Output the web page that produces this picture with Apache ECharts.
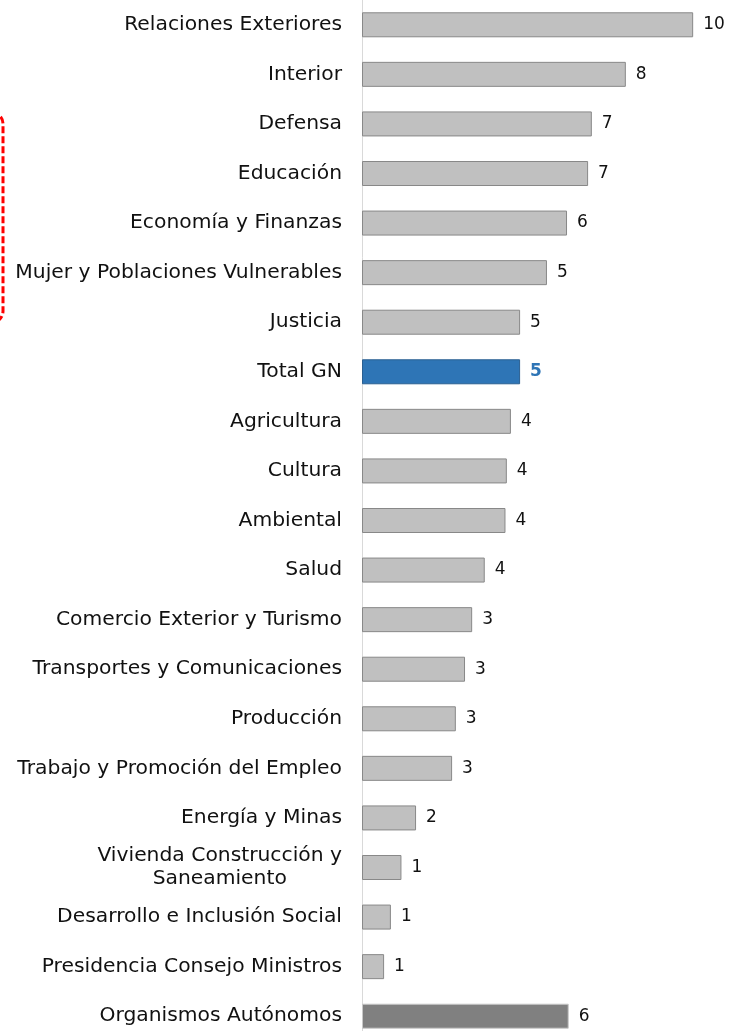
<!DOCTYPE html>
<html>
<head>
<meta charset="utf-8">
<script src="https://cdn.jsdelivr.net/npm/echarts@6/dist/echarts.min.js"></script>
<style>
html,body{margin:0;padding:0;background:#fff;}
#chart{width:731px;height:1031px;}
</style>
</head>
<body>
<div id="chart"></div>
<script>
const categories = [
  'Relaciones Exteriores','Interior','Defensa','Educación','Economía y Finanzas',
  'Mujer y Poblaciones Vulnerables','Justicia','Total GN','Agricultura','Cultura',
  'Ambiental','Salud','Comercio Exterior y Turismo','Transportes y Comunicaciones',
  'Producción','Trabajo y Promoción del Empleo','Energía y Minas',
  'Vivienda Construcción y\nSaneamiento','Desarrollo e Inclusión Social',
  'Presidencia Consejo Ministros','Organismos Autónomos'
];
const values = [9.74, 7.76, 6.76, 6.65, 6.03, 5.44, 4.65, 4.65, 4.38, 4.26, 4.22, 3.61, 3.24, 3.03, 2.76, 2.65, 1.59, 1.16, 0.85, 0.65, 6.08];
const totalName = 'Total GN';
const autonomoName = 'Organismos Autónomos';

const chart = echarts.init(document.getElementById('chart'), null, {renderer:'canvas'});

const data = values.map((v, i) => {
  const name = categories[i];
  if (name === totalName) {
    return {value: v, itemStyle: {color: '#2E75B6', borderColor: '#2A5F91', borderWidth: 1},
      label: {color: '#2E75B6', fontWeight: 'bold'}};
  }
  if (name === autonomoName) {
    return {value: v, itemStyle: {color: '#808080', borderColor: '#C8C8C8', borderWidth: 1}};
  }
  return {value: v};
});

chart.setOption({
  animation: false,
  backgroundColor: '#ffffff',
  grid: {left: 362, width: 357, top: 0, height: 1041, containLabel: false, outerBoundsMode: 'none'},
  xAxis: {
    type: 'value', min: 0, max: 10.5,
    axisLine: {show: false}, axisTick: {show: false},
    axisLabel: {show: false}, splitLine: {show: false}
  },
  yAxis: {
    type: 'category', data: categories, inverse: true,
    axisLine: {show: true, lineStyle: {color: '#D9D9D9', width: 1}},
    axisTick: {show: false},
    axisLabel: {
      margin: 20,
      fontFamily: 'DejaVu Sans',
      fontSize: 20.3,
      color: '#111',
      lineHeight: 23,
      formatter: function (v) {
        if (v.indexOf('\n') >= 0) {
          return v.split('\n').map(s => '{c|' + s + '}').join('\n');
        }
        return v;
      },
      rich: {
        c: {align: 'center', fontFamily: 'DejaVu Sans', fontSize: 20.3, color: '#111', lineHeight: 23}
      }
    }
  },
  series: [{
    type: 'bar',
    data: data,
    barWidth: 25,
    itemStyle: {color: '#C0C0C0', borderColor: '#888888', borderWidth: 1},
    label: {
      show: true, position: 'right', distance: 10,
      fontFamily: 'DejaVu Sans', fontSize: 17, color: '#111',
      formatter: p => String(Math.round(p.value))
    }
  }],
  graphic: [{
    type: 'rect',
    shape: {x: -200, y: 112, width: 203, height: 211, r: 12},
    style: {fill: 'none', stroke: '#FF0000', lineWidth: 3, lineDash: [7, 3]},
    silent: true
  }]
});
</script>
</body>
</html>
